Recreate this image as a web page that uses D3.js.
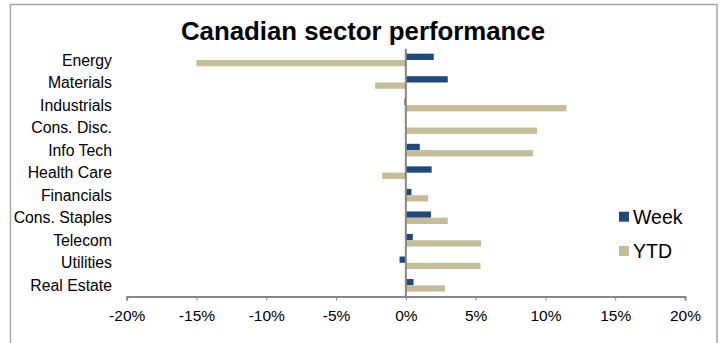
<!DOCTYPE html>
<html>
<head>
<meta charset="utf-8">
<script src="https://cdn.jsdelivr.net/npm/d3@7"></script>
<style>
	body { margin: 0; background: #fff; }
	text { font-family: 'Liberation Sans', Arial, sans-serif; }
</style>
</head>
<body>
<div id="chart"></div>
<script>
// sectors, top to bottom
let sectors = ['Energy', 'Materials', 'Industrials', 'Cons. Disc.', 'Info Tech', 'Health Care',
	'Financials', 'Cons. Staples', 'Telecom', 'Utilities', 'Real Estate'];
let series = ['Week', 'YTD'];
// percent values
let week = [2.0, 3.0, -0.1, 0.0, 1.0, 1.85, 0.4, 1.8, 0.5, -0.45, 0.55];
let ytd = [-15.0, -2.2, 11.5, 9.4, 9.1, -1.7, 1.6, 3.0, 5.4, 5.35, 2.8];
let xTicks = [-20, -15, -10, -5, 0, 5, 10, 15, 20];

let width = 722,
	height = 343,
	lookup = {Week: '#1f497d', YTD: '#c4bd97'},
	svg = d3.select('#chart').append('svg')
		.attr('width', width)
		.attr('height', height);

let data = sectors.map((s, i) => ({name: s, Week: week[i], YTD: ytd[i]}));

let x = d3.scaleLinear().domain([-20, 20]).range([126.7, 685]);
let y = d3.scaleBand().domain(sectors).range([48.7, 296.6]);
let ySub = d3.scaleBand().domain(series).range([0, y.bandwidth()]).paddingOuter(0.79);

// outer frame (bottom edge is cut off)
svg.append('rect')
	.attr('x', 10.5).attr('y', 4.5)
	.attr('width', 706.5).attr('height', 360)
	.attr('fill', 'none')
	.style('stroke', '#a6a6a6')
	.style('stroke-width', '1.5px');

// title
svg.append('text')
	.attr('x', 363).attr('y', 39.5)
	.attr('text-anchor', 'middle')
	.attr('font-size', '25.8px')
	.attr('font-weight', 'bold')
	.text('Canadian sector performance');

// bars, one group per sector
let grp = svg.selectAll('g.sector')
	.data(data)
	.enter().append('g')
	.attr('class', 'sector')
	.attr('transform', (d) => 'translate(0,' + y(d.name) + ')');

grp.selectAll('rect')
	.data((d) => series.map((k) => ({key: k, value: d[k]})))
	.enter().append('rect')
	.attr('x', (d) => x(Math.min(0, d.value)))
	.attr('y', (d) => ySub(d.key))
	.attr('width', (d) => Math.abs(x(d.value) - x(0)))
	.attr('height', ySub.bandwidth())
	.attr('fill', (d) => lookup[d.key]);

// category labels
grp.append('text')
	.attr('x', 112)
	.attr('y', y.bandwidth() / 2)
	.attr('dy', '0.36em')
	.attr('text-anchor', 'end')
	.attr('font-size', '15.8px')
	.text((d) => d.name);

// x axis
let xAxis = svg.append('g')
	.attr('transform', 'translate(0,296.6)')
	.call(d3.axisBottom(x).tickValues(xTicks).tickSize(4).tickPadding(9)
		.tickFormat((d) => d + '%'));
xAxis.select('.domain').style('stroke', '#868686').style('stroke-width', '2px');
xAxis.selectAll('.tick line').style('stroke', '#868686');
xAxis.selectAll('.tick text')
	.attr('font-size', '15.5px')
	.attr('font-family', 'Liberation Sans, Arial, sans-serif')
	.attr('fill', '#000');

// zero line
svg.append('line')
	.attr('x1', x(0)).attr('x2', x(0))
	.attr('y1', y.range()[0]).attr('y2', y.range()[1])
	.style('stroke', '#868686')
	.style('stroke-width', '2px');

// legend
let leg = svg.selectAll('g.legend')
	.data(series)
	.enter().append('g')
	.attr('class', 'legend')
	.attr('transform', (d, i) => 'translate(619,' + (211.7 + 34.3 * i) + ')');
leg.append('rect')
	.attr('width', 10).attr('height', 10)
	.attr('fill', (d) => lookup[d]);
leg.append('text')
	.attr('x', 14).attr('y', 5)
	.attr('dy', '0.36em')
	.attr('font-size', '19.5px')
	.text((d) => d);
</script>
</body>
</html>
